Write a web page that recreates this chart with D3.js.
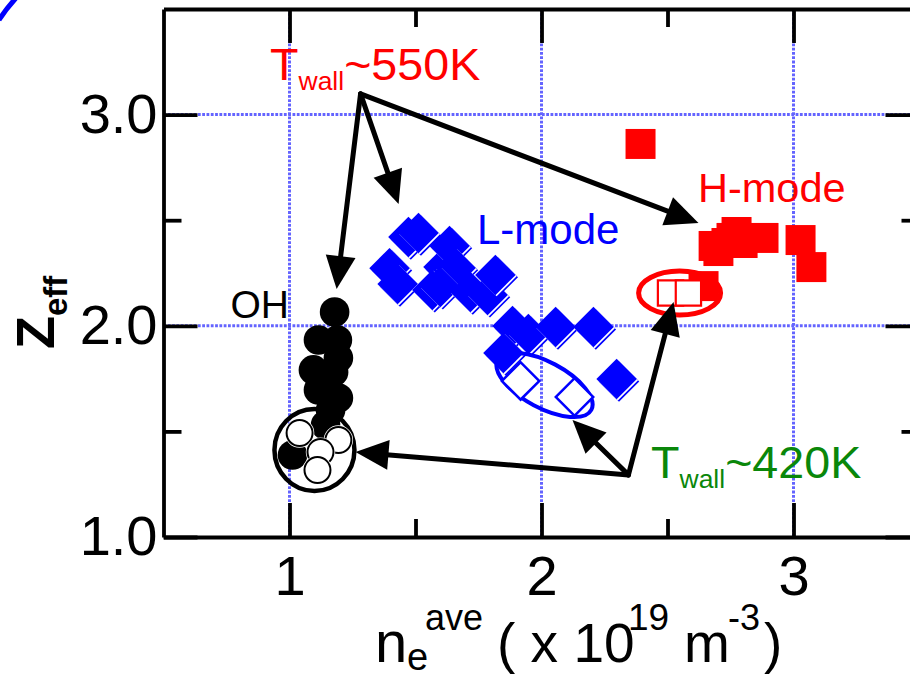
<!DOCTYPE html>
<html>
<head>
<meta charset="utf-8">
<style>
  body { margin:0; background:#fff; }
  svg { display:block; font-family:"Liberation Sans", Arial, Helvetica, sans-serif; }
</style>
</head>
<body>
<script src="https://d3js.org/d3.v7.min.js"></script>
<script>

var width = 910,
    height = 677;

// OH discharges (filled = Twall~550K, open = Twall~420K)
var ohX     = [1.179, 1.115, 1.190, 1.194, 1.095, 1.175, 1.115, 1.194, 1.163, 1.143, 1.012];
var ohY     = [2.065, 1.933, 1.933, 1.848, 1.791, 1.781, 1.696, 1.658, 1.601, 1.530, 1.388];
var ohOpenX = [1.040, 1.194, 1.123, 1.111];
var ohOpenY = [1.492, 1.459, 1.402, 1.317];

// L-mode
var lX     = [1.472, 1.512, 1.397, 1.429, 1.611, 1.635, 1.659, 1.567, 1.599, 1.718, 1.786, 1.817,
              1.885, 1.948, 2.056, 2.206, 1.849, 2.298];
var lY     = [2.420, 2.439, 2.273, 2.198, 2.278, 2.378, 2.274, 2.170, 2.184, 2.160, 2.146, 2.241,
              1.999, 1.961, 1.994, 1.994, 1.871, 1.748];
var lOpenX = [1.917, 2.131];
var lOpenY = [1.739, 1.663];

// H-mode
var hX     = [2.393, 2.643, 2.683, 2.702, 2.754, 2.774, 2.734, 2.798, 2.881, 3.028, 3.071];
var hY     = [2.861, 2.188, 2.378, 2.354, 2.416, 2.444, 2.392, 2.392, 2.416, 2.406, 2.278];
var hOpenX = [2.512, 2.583];
var hOpenY = [2.155, 2.155];

var xTicks  = [1, 2, 3],
    xMinor  = [1.5, 2.5],
    yTicks  = [1, 2, 3],
    yMinor  = [1.5, 2.5],
    xLabels = ["1", "2", "3"],
    yLabels = ["1.0", "2.0", "3.0"];

// annotation arrows: apex -> tips (data coords)
var apex550 = [1.282, 3.098],
    tips550 = [[1.187, 2.174], [1.433, 2.577], [2.623, 2.487]];
var apex420 = [2.345, 1.294],
    tips420 = [[1.262, 1.402], [2.123, 1.554], [2.524, 2.113]];

// group outlines: centre (data), radii in px
var rings = [
  {c: [1.099, 1.412], rx: 40, ry: 41, rot: 0,  color: "#000",    w: 4.5},
  {c: [2.012, 1.720], rx: 53, ry: 23, rot: 28, color: "#0000ff", w: 4},
  {c: [2.548, 2.155], rx: 41, ry: 22, rot: 0,  color: "#ff0000", w: 5}
];

var x = d3.scaleLinear().domain([0.5, 3.5]).range([163.5, 919.5]);
var y = d3.scaleLinear().domain([1, 3.5]).range([537, 9]);

var svg = d3.select("body").append("svg")
    .attr("width", width)
    .attr("height", height);

// stray blue arc top-left
svg.append("path")
    .attr("d", "M-1,20 Q6,9 16,-2")
    .attr("fill", "none")
    .attr("stroke", "#0000ff")
    .attr("stroke-width", 5);

// dotted grid
var grid = svg.append("g")
    .attr("stroke", "#6464ff")
    .attr("stroke-width", 3)
    .attr("stroke-dasharray", "2.8,1.5");
grid.selectAll(".vx").data(xTicks).enter().append("line")
    .attr("x1", d => x(d)).attr("x2", d => x(d))
    .attr("y1", y(3.5)).attr("y2", y(1));
grid.selectAll(".hy").data(yTicks.slice(1)).enter().append("line")
    .attr("y1", d => y(d)).attr("y2", d => y(d))
    .attr("x1", x(0.5)).attr("x2", x(3.5));

function styleAxis(g) {
  g.attr("font-family", null).attr("font-size", 56);
  g.selectAll("line, path").attr("stroke", "#000").attr("stroke-width", 3.8);
  g.selectAll("text").attr("fill", "#000");
}
function minorAxis(g) {
  g.select(".domain").remove();
  g.selectAll("line").attr("stroke", "#000").attr("stroke-width", 3.8);
}

svg.append("g").attr("transform", "translate(0," + y(1) + ")")
    .call(d3.axisBottom(x).tickValues(xTicks).tickFormat((d, i) => xLabels[i])
      .tickSizeInner(-34).tickSizeOuter(0).tickPadding(18))
    .call(styleAxis);
svg.append("g").attr("transform", "translate(0," + y(1) + ")")
    .call(d3.axisBottom(x).tickValues(xMinor).tickFormat("").tickSizeInner(-18).tickSizeOuter(0))
    .call(minorAxis);
svg.append("g").attr("transform", "translate(0," + y(3.5) + ")")
    .call(d3.axisTop(x).tickValues(xTicks).tickFormat("").tickSizeInner(-34).tickSizeOuter(0))
    .call(styleAxis);
svg.append("g").attr("transform", "translate(0," + y(3.5) + ")")
    .call(d3.axisTop(x).tickValues(xMinor).tickFormat("").tickSizeInner(-18).tickSizeOuter(0))
    .call(minorAxis);

svg.append("g").attr("transform", "translate(" + x(0.5) + ",0)")
    .call(d3.axisLeft(y).tickValues(yTicks).tickFormat((d, i) => yLabels[i])
      .tickSizeInner(-34).tickSizeOuter(0).tickPadding(6))
    .call(styleAxis);
svg.append("g").attr("transform", "translate(" + x(0.5) + ",0)")
    .call(d3.axisLeft(y).tickValues(yMinor).tickFormat("").tickSizeInner(-18).tickSizeOuter(0))
    .call(minorAxis);
svg.append("g").attr("transform", "translate(" + x(3.5) + ",0)")
    .call(d3.axisRight(y).tickValues(yTicks).tickFormat("").tickSizeInner(-34).tickSizeOuter(0))
    .call(styleAxis);
svg.append("g").attr("transform", "translate(" + x(3.5) + ",0)")
    .call(d3.axisRight(y).tickValues(yMinor).tickFormat("").tickSizeInner(-18).tickSizeOuter(0))
    .call(minorAxis);

function pts(xs, ys) { return xs.map((v, i) => [v, ys[i]]); }

var circ = d3.symbol().type(d3.symbolCircle);
var sq = d3.symbol().type(d3.symbolSquare);

// H-mode filled squares
svg.append("g").selectAll("path").data(pts(hX, hY)).enter().append("path")
    .attr("transform", d => "translate(" + x(d[0]) + "," + y(d[1]) + ")")
    .attr("d", sq.size(900)())
    .attr("fill", "#ff0000");

// L-mode filled diamonds with the little offset edge
var dia = svg.append("g").selectAll("g").data(pts(lX, lY)).enter().append("g")
    .attr("transform", d => "translate(" + x(d[0]) + "," + y(d[1]) + ")");
dia.append("path").attr("d", sq.size(820)())
    .attr("transform", "translate(2.4,2.4) rotate(45)").attr("fill", "#0000ff");
dia.append("path").attr("d", sq.size(820)())
    .attr("transform", "translate(1.2,1.2) rotate(45)").attr("fill", "#fff");
dia.append("path").attr("d", sq.size(820)())
    .attr("transform", "rotate(45)").attr("fill", "#0000ff");

// OH filled circles
svg.append("g").selectAll("path").data(pts(ohX, ohY)).enter().append("path")
    .attr("transform", d => "translate(" + x(d[0]) + "," + y(d[1]) + ")")
    .attr("d", circ.size(690)())
    .attr("fill", "#000");

// group rings
svg.append("g").selectAll("ellipse").data(rings).enter().append("ellipse")
    .attr("transform", d => "translate(" + x(d.c[0]) + "," + y(d.c[1]) + ") rotate(" + d.rot + ")")
    .attr("rx", d => d.rx).attr("ry", d => d.ry)
    .attr("fill", "none")
    .attr("stroke", d => d.color)
    .attr("stroke-width", d => d.w);

// open markers (Twall~420K)
var oc = svg.append("g").selectAll("g").data(pts(ohOpenX, ohOpenY)).enter().append("g")
    .attr("transform", d => "translate(" + x(d[0]) + "," + y(d[1]) + ")");
oc.append("path").attr("d", circ.size(680)()).attr("fill", "#fff");
oc.append("path").attr("d", circ.size(530)()).attr("fill", "#fff")
    .attr("stroke", "#000").attr("stroke-width", 2);

svg.append("g").selectAll("path").data(pts(lOpenX, lOpenY)).enter().append("path")
    .attr("transform", d => "translate(" + x(d[0]) + "," + y(d[1]) + ") rotate(45)")
    .attr("d", sq.size(700)())
    .attr("fill", "#fff").attr("stroke", "#0000ff").attr("stroke-width", 2.5);

svg.append("g").selectAll("path").data(pts(hOpenX, hOpenY)).enter().append("path")
    .attr("transform", d => "translate(" + x(d[0]) + "," + y(d[1]) + ")")
    .attr("d", sq.size(640)())
    .attr("fill", "#fff").attr("stroke", "#ff0000").attr("stroke-width", 2.2);

// arrows
function arrows(apex, tips) {
  var ax = x(apex[0]), ay = y(apex[1]);
  var g = svg.append("g");
  tips.forEach(function(t) {
    var tx = x(t[0]), ty = y(t[1]);
    var ang = Math.atan2(ty - ay, tx - ax);
    var L = 33, W = 15;
    var bx = tx - L * Math.cos(ang), by = ty - L * Math.sin(ang);
    g.append("line")
        .attr("x1", ax).attr("y1", ay).attr("x2", bx + 2 * Math.cos(ang)).attr("y2", by + 2 * Math.sin(ang))
        .attr("stroke", "#000").attr("stroke-width", 5).attr("stroke-linecap", "round");
    g.append("path")
        .attr("d", "M" + tx + "," + ty +
             "L" + (bx - W * Math.sin(ang)) + "," + (by + W * Math.cos(ang)) +
             "L" + (bx + W * Math.sin(ang)) + "," + (by - W * Math.cos(ang)) + "Z")
        .attr("fill", "#000");
  });
}
arrows(apex550, tips550);
arrows(apex420, tips420);

// labels
function twall(px, py, color, rest) {
  var t = svg.append("text")
      .attr("transform", "translate(" + px + "," + py + ") scale(1.06,1)")
      .attr("fill", color)
      .attr("font-size", 44);
  t.append("tspan").text("T");
  t.append("tspan").attr("font-size", 25).attr("dy", 10).text("wall");
  t.append("tspan").attr("dy", -10).text(rest);
}
twall(270, 80, "#ff0000", "~550K");
twall(651, 478, "#0a870a", "~420K");

svg.append("text").attr("x", 698).attr("y", 202).attr("font-size", 41.5)
    .attr("fill", "#ff0000").text("H-mode");
svg.append("text").attr("x", 477).attr("y", 244).attr("font-size", 42)
    .attr("fill", "#0000ff").text("L-mode");
svg.append("text").attr("x", 289).attr("y", 318).attr("font-size", 39)
    .attr("text-anchor", "end").attr("fill", "#000").text("OH");

// y title
var yt = svg.append("text")
    .attr("transform", "translate(54,349) rotate(-90)")
    .attr("font-weight", "bold")
    .attr("font-size", 54);
yt.append("tspan").text("Z");
yt.append("tspan").attr("font-size", 33).attr("dy", 13).text("eff");

// x title
var xt = svg.append("g").attr("fill", "#000");
xt.append("text").attr("x", 375).attr("y", 662).attr("font-size", 58).text("n");
xt.append("text").attr("x", 407).attr("y", 670).attr("font-size", 38).text("e");
xt.append("text").attr("x", 425).attr("y", 630).attr("font-size", 36).text("ave");
xt.append("text").attr("x", 497).attr("y", 662).attr("font-size", 55).attr("xml:space", "preserve").text("( x 10");
xt.append("text").attr("x", 628).attr("y", 630).attr("font-size", 37).text("19");
xt.append("text").attr("x", 684).attr("y", 662).attr("font-size", 55).text("m");
xt.append("text").attr("x", 728).attr("y", 630).attr("font-size", 36).text("-3");
xt.append("text").attr("x", 764).attr("y", 662).attr("font-size", 55).text(")");

</script>
</body>
</html>
